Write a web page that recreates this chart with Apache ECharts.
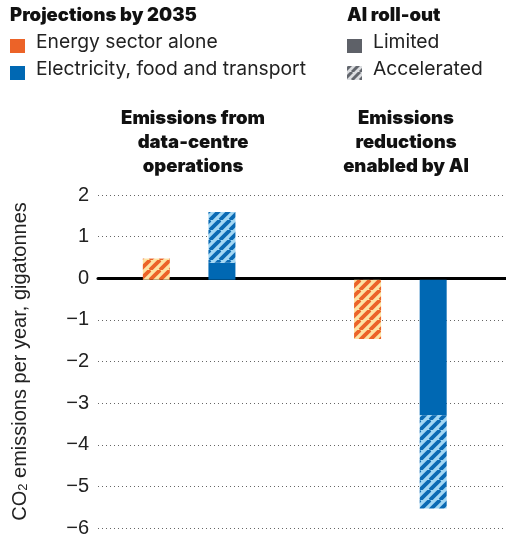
<!DOCTYPE html>
<html><head><meta charset="utf-8">
<script src="https://cdn.jsdelivr.net/npm/echarts@6/dist/echarts.min.js"></script>
<style>html,body{margin:0;padding:0;background:#fff}#c{width:506px;height:538px}</style>
</head><body><div id="c"></div>
<script>
// ---- data ----
const groups = ['Emissions from\ndata-centre\noperations', 'Emissions\nreductions\nenabled by AI'];
const yTicks = [2, 1, 0, -1, -2, -3, -4, -5, -6];
// Energy sector alone (Gt CO2 / yr)
const energyLimited = [0, 0];
const energyAccelerated = [0.5, -1.4];
// Electricity, food and transport (Gt CO2 / yr)
const elecLimited = [0.4, -3.2];
const elecAccelerated = [1.6, -5.4];

const energyExtra = energyAccelerated.map((v, i) => +(v - energyLimited[i]).toFixed(2));
const elecExtra = elecAccelerated.map((v, i) => +(v - elecLimited[i]).toFixed(2));

function hatch(bg, fg, s, w) {
  const c = document.createElement('canvas');
  c.width = s; c.height = s;
  const g = c.getContext('2d');
  g.fillStyle = bg; g.fillRect(0, 0, s, s);
  g.strokeStyle = fg; g.lineWidth = w;
  for (let k = -1; k <= 1; k++) {
    g.beginPath(); g.moveTo(k * s, s); g.lineTo(k * s + s, 0); g.stroke();
  }
  return { image: c, repeat: 'repeat' };
}
const ORANGE = '#ec6328', BLUE = '#0068b3';
const orangeHatch = hatch('#fde3a4', ORANGE, 10, 3.8);
const blueHatch = hatch('#a2d7f4', '#0a6ab4', 10, 3.8);
const grayHatch = hatch('#dcdee1', '#62666d', 8, 3.0);

const chart = echarts.init(document.getElementById('c'), null, { renderer: 'canvas' });
const TOP = 195, BOTTOM = 4;
const legFont = '"Inter", "Noto Sans", sans-serif';
const axFont = '"Liberation Sans", Arial, sans-serif';
chart.setOption({
  animation: false,
  grid: [
    { left: 88, right: 0, top: TOP, bottom: BOTTOM },
    { left: 83.5, right: -6.5, top: TOP, bottom: BOTTOM }
  ],
  xAxis: [
    { gridIndex: 0, type: 'category', data: groups, axisLabel: { show: false }, axisTick: { show: false },
      axisLine: { show: true, onZero: true, lineStyle: { color: '#000', width: 3 } } },
    { gridIndex: 1, type: 'category', data: groups, show: false }
  ],
  yAxis: [
    { gridIndex: 0, type: 'value', min: -6, max: 2, interval: 1,
      axisLine: { show: false }, axisTick: { show: false },
      axisLabel: { margin: 9, color: '#222', fontSize: 20, fontFamily: axFont,
        formatter: v => (v < 0 ? '\u2212' + Math.abs(v) : '' + v) },
      splitLine: { show: true, lineStyle: { color: '#666', width: 1, type: [1, 3] } },
      name: '{a|CO}{b|2}{a| emissions per year, gigatonnes}', nameLocation: 'middle', nameRotate: 90, nameGap: 68,
      nameTextStyle: { rich: {
        a: { fontSize: 20, color: '#222', fontFamily: axFont },
        b: { fontSize: 13, color: '#222', fontFamily: axFont, verticalAlign: 'bottom', lineHeight: 14, padding: [9, 0, 0, 0] }
      } } },
    { gridIndex: 1, type: 'value', min: -6, max: 2, interval: 1, show: false }
  ],
  series: [
    { type: 'bar', xAxisIndex: 1, yAxisIndex: 1, stack: 'energy', barWidth: 27, barGap: '143%',
      data: energyLimited, itemStyle: { color: ORANGE } },
    { type: 'bar', xAxisIndex: 1, yAxisIndex: 1, stack: 'energy', barWidth: 27, barGap: '143%',
      data: energyExtra, itemStyle: { color: orangeHatch } },
    { type: 'bar', xAxisIndex: 1, yAxisIndex: 1, stack: 'elec', barWidth: 27, barGap: '143%',
      data: elecLimited, itemStyle: { color: BLUE } },
    { type: 'bar', xAxisIndex: 1, yAxisIndex: 1, stack: 'elec', barWidth: 27, barGap: '143%',
      data: elecExtra, itemStyle: { color: blueHatch } }
  ],
  graphic: [
    { type: 'text', left: 10, top: 6, style: { text: 'Projections by 2035', font: '900 18.5px ' + legFont, fill: '#111' } },
    { type: 'rect', shape: { x: 10, y: 39, width: 15, height: 14 }, style: { fill: ORANGE } },
    { type: 'text', left: 36, top: 33, style: { text: 'Energy sector alone', font: '19.3px ' + legFont, fill: '#222' } },
    { type: 'rect', shape: { x: 10, y: 66, width: 15, height: 14 }, style: { fill: BLUE } },
    { type: 'text', left: 36, top: 60, style: { text: 'Electricity, food and transport', font: '19.3px ' + legFont, fill: '#222' } },
    { type: 'text', left: 347, top: 6, style: { text: 'AI roll-out', font: '900 18.5px ' + legFont, fill: '#111' } },
    { type: 'rect', shape: { x: 347, y: 39, width: 15, height: 14 }, style: { fill: '#5e6168' } },
    { type: 'text', left: 373, top: 33, style: { text: 'Limited', font: '19.3px ' + legFont, fill: '#222' } },
    { type: 'rect', shape: { x: 347, y: 66, width: 15, height: 14 }, style: { fill: grayHatch } },
    { type: 'text', left: 373, top: 60, style: { text: 'Accelerated', font: '19.3px ' + legFont, fill: '#222' } },
    { type: 'text', x: 193, y: 106, style: { text: groups[0], font: '900 18.5px ' + legFont, fill: '#111', textAlign: 'center', lineHeight: 24 } },
    { type: 'text', x: 406, y: 106, style: { text: groups[1], font: '900 18.5px ' + legFont, fill: '#111', textAlign: 'center', lineHeight: 24 } }
  ]
});
</script></body></html>
